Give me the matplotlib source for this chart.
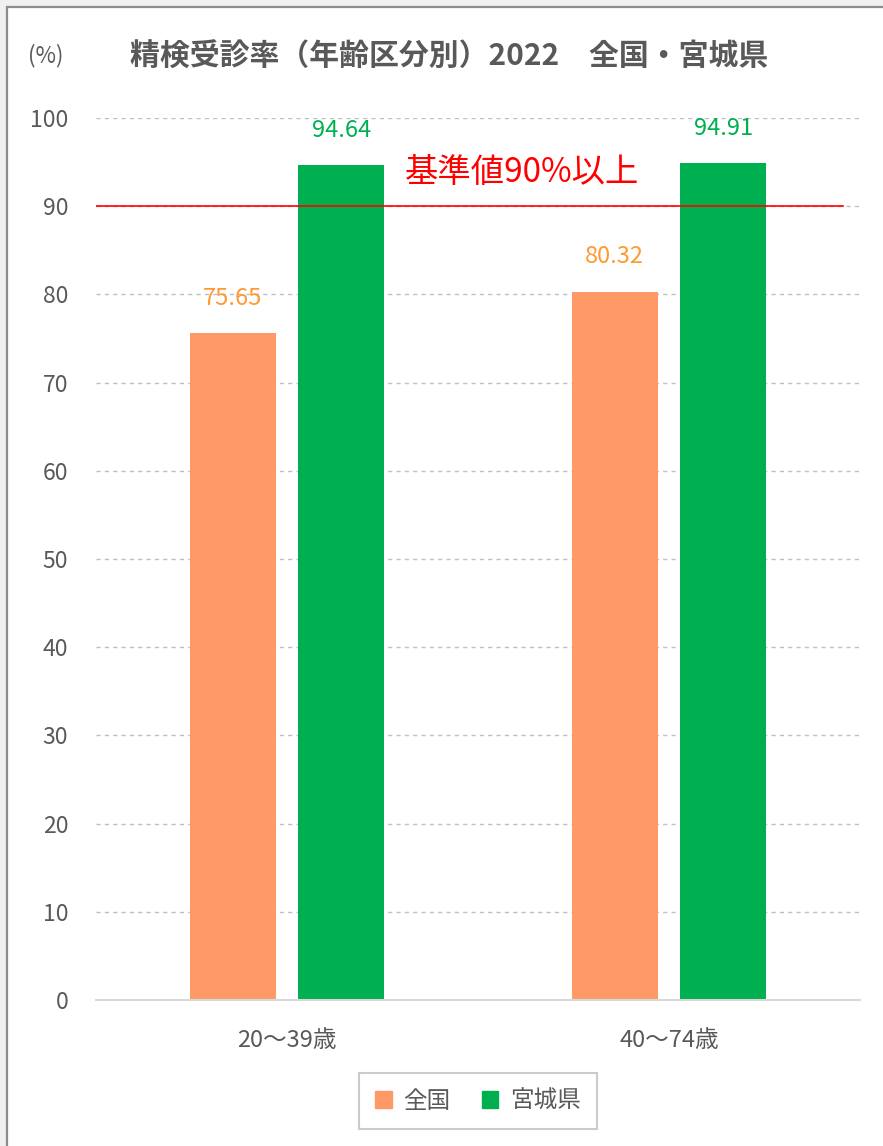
import matplotlib
matplotlib.use('Agg')
import matplotlib.pyplot as plt
import numpy as np
from matplotlib.patches import Rectangle

plt.rcParams['font.family'] = ['Noto Sans CJK JP', 'DejaVu Sans']

# データ
categories = ['20～39歳', '40～74歳']
series_names = ['全国', '宮城県']
zenkoku = [75.65, 80.32]
miyagi = [94.64, 94.91]
kijun = 90

bar_colors = ['#FF9966', '#00B050']
label_colors = ['#FF9933', '#00B050']
gray = '#595959'

fig = plt.figure(figsize=(8.83, 11.46), dpi=100, facecolor='#F0F0F0')

# チャート枠
fig.patches.append(Rectangle((7 / 883, -0.1), 1.2, (1146 - 7) / 1146 + 0.1,
                             transform=fig.transFigure, facecolor='white',
                             edgecolor='#8C8C8C', linewidth=1.6, zorder=-5))

ax = fig.add_axes([96 / 883, (1146 - 1000) / 1146, 764 / 883, 882 / 1146])
ax.set_facecolor('none')

x = np.arange(len(categories))
w = 0.225
off = 0.1425
for vals, col, lcol, dx in [(zenkoku, bar_colors[0], label_colors[0], -off),
                            (miyagi, bar_colors[1], label_colors[1], off)]:
    bars = ax.bar(x + dx, vals, w, color=col, zorder=2)
    for b, v in zip(bars, vals):
        ax.annotate(f'{v:.2f}', (b.get_x() + b.get_width() / 2, v),
                    xytext=(0, 25), textcoords='offset points',
                    ha='center', va='center', fontsize=17, color=lcol)

# 基準線
ax.plot([-0.5, 1.455], [kijun, kijun], color='#FF0000', lw=1.2, zorder=3)
ax.text(0.615, 93.8, '基準値90%以上', color='#FF0000', fontsize=24,
        ha='center', va='center')

ax.set_xlim(-0.5, 1.5)
ax.set_ylim(0, 100)
ax.set_yticks(np.arange(0, 101, 10))
ax.yaxis.grid(True, linestyle=(0, (3, 3)), color='#C0C0C0', lw=1, zorder=0)
ax.set_axisbelow(True)
ax.set_xticks(x)
ax.set_xticklabels(categories)
ax.tick_params(axis='y', length=0, pad=20, labelsize=16.5, labelcolor=gray)
ax.tick_params(axis='x', length=0, pad=21, labelsize=17, labelcolor=gray)
for s in ['top', 'right', 'left']:
    ax.spines[s].set_visible(False)
ax.spines['bottom'].set_color('#D9D9D9')
ax.spines['bottom'].set_linewidth(1.5)
ax.spines['bottom'].set_zorder(4)

fig.text(46 / 883, 1 - 56 / 1146, '(%)', fontsize=16, color=gray,
         ha='center', va='center')
fig.text(449 / 883, 1 - 57 / 1146, '精検受診率（年齢区分別）2022　全国・宮城県',
         fontsize=21.5, fontweight='bold', color=gray, ha='center', va='center')

handles = [Rectangle((0, 0), 1, 1, color=c) for c in bar_colors]
leg = fig.legend(handles, series_names, loc='center',
                 bbox_to_anchor=(478 / 883, 1 - 1101 / 1146), ncol=2,
                 fontsize=17, frameon=True, fancybox=False,
                 handlelength=0.7, handleheight=0.7, handletextpad=0.5,
                 columnspacing=1.3, borderpad=0.7)
leg.get_frame().set_edgecolor('#BFBFBF')
leg.get_frame().set_linewidth(1.5)
for t in leg.get_texts():
    t.set_color(gray)

fig.savefig('out.png', dpi=100, facecolor=fig.get_facecolor())
